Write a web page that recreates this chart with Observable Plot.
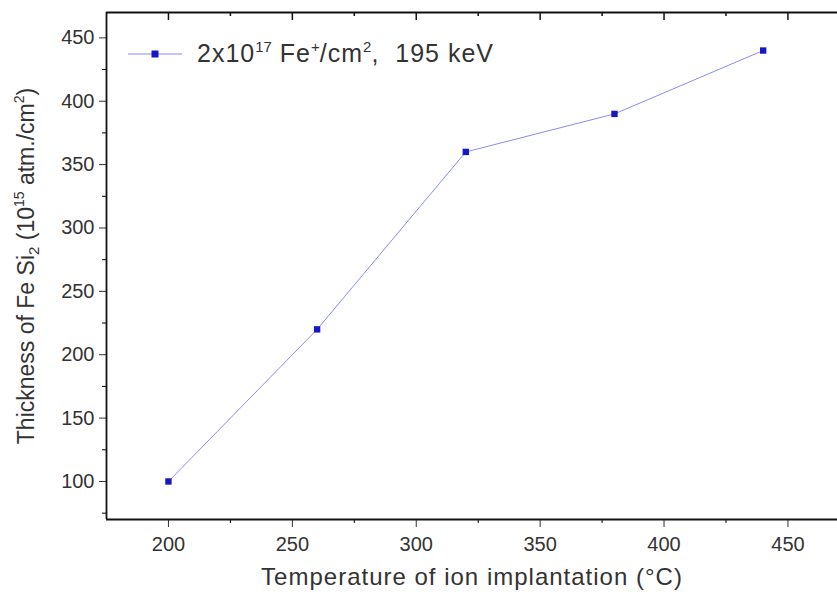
<!DOCTYPE html>
<html>
<head>
<meta charset="utf-8">
<script src="https://cdn.jsdelivr.net/npm/d3@7"></script>
<script src="https://cdn.jsdelivr.net/npm/@observablehq/plot@0.6"></script>
<style>
  html, body { margin: 0; padding: 0; background: #fff; overflow: hidden; }
  #wrap { position: relative; width: 837px; height: 592px; font-family: "Liberation Sans", Arial, sans-serif; }
  #legend { position: absolute; left: 126px; top: 39px; display: flex; align-items: center; color: #333; font-size: 25px; letter-spacing: 1px; white-space: pre; }
  #legend sup { font-size: 15px; vertical-align: 10px; line-height: 0; letter-spacing: 0; }
</style>
</head>
<body>
<div id="wrap">
  <div id="chart"></div>
  <div id="legend"><svg width="58" height="14" style="margin-right:13px"><line x1="2" x2="56" y1="7" y2="7" stroke="#8a8cf0" stroke-width="1"/><rect x="25.5" y="3.5" width="7" height="7" fill="#1616c8"/></svg><span>2x10<sup>17</sup> Fe<sup>+</sup>/cm<sup>2</sup>,  195 keV</span></div>
</div>
<script>
const temperature = [200, 260, 320, 380, 440];
const thickness = [100, 220, 360, 390, 440];
const xMajor = [200, 250, 300, 350, 400, 450];
const xMinor = [225, 275, 325, 375, 425];
const yMajor = [100, 150, 200, 250, 300, 350, 400, 450];
const yMinor = [75, 125, 175, 225, 275, 325, 375, 425];
const xTitle = "Temperature of ion implantation (°C)";
const yTitle = "Thickness of Fe Si2 (1015 atm./cm2)";

const data = temperature.map((t, i) => ({t, v: thickness[i]}));

const W = 837, H = 592, mT = 12, mB = 73, mL = 106, mR = 0;
const frameH = H - mT - mB;

const chart = Plot.plot({
  width: W, height: H,
  marginLeft: mL, marginRight: mR, marginTop: mT, marginBottom: mB,
  style: {fontFamily: "Liberation Sans, Arial, sans-serif", background: "#fff"},
  x: {domain: [175, 470]},
  y: {domain: [70, 470]},
  marks: [
    Plot.axisY({ticks: yMajor, tickSize: 7, tickFormat: () => "", color: "#333",
      label: yTitle, labelAnchor: "center", labelArrow: "none", labelOffset: 89}),
    Plot.axisY({ticks: yMinor, tickSize: 4, tickFormat: () => "", label: null}),
    Plot.axisX({ticks: xMajor, tickSize: 8, tickFormat: () => "", color: "#333",
      label: xTitle, labelAnchor: "center", labelArrow: "none", labelOffset: 65}),
    Plot.axisX({ticks: xMinor, tickSize: 4, tickFormat: () => "", label: null}),
    Plot.text(yMajor, {y: d => d, text: d => String(d), frameAnchor: "left", textAnchor: "end", dx: -12, fontSize: 20, fill: "#333"}),
    Plot.text(xMajor, {x: d => d, text: d => String(d), frameAnchor: "bottom", lineAnchor: "top", dy: 17, fontSize: 20, fill: "#333"}),
    Plot.tickX(xMajor, {x: d => d, insetBottom: frameH - 8, stroke: "#111", strokeWidth: 1.5}),
    Plot.tickX(xMinor, {x: d => d, insetBottom: frameH - 4, stroke: "#111", strokeWidth: 1.5}),
    Plot.ruleY([70, 470], {stroke: "#111", strokeWidth: 1.8}),
    Plot.ruleX([175], {stroke: "#111", strokeWidth: 1.8}),
    Plot.line(data, {x: "t", y: "v", stroke: "#8a8cf0", strokeWidth: 1}),
    Plot.dot(data, {x: "t", y: "v", symbol: "square", r: 3.6, fill: "#1616c8", stroke: "none"})
  ]
});
document.getElementById("chart").appendChild(chart);

chart.querySelectorAll("text").forEach(t => {
  if (t.textContent === yTitle) {
    t.style.fontSize = "23px";
    t.textContent = "";
    const parts = [
      ["Thickness of Fe Si", 0, null],
      ["2", 5, 15],
      [" (10", -5, null],
      ["15", -10, 14],
      [" atm./cm", 10, null],
      ["2", -10, 14],
      [")", 10, null]
    ];
    for (const [s, dy, fs] of parts) {
      const ts = document.createElementNS("http://www.w3.org/2000/svg", "tspan");
      ts.textContent = s;
      if (dy) ts.setAttribute("dy", dy);
      if (fs) ts.setAttribute("font-size", fs);
      t.appendChild(ts);
    }
  } else if (t.textContent === xTitle) {
    t.style.fontSize = "24px";
    t.style.letterSpacing = "1px";
  }
});
</script>
</body>
</html>
